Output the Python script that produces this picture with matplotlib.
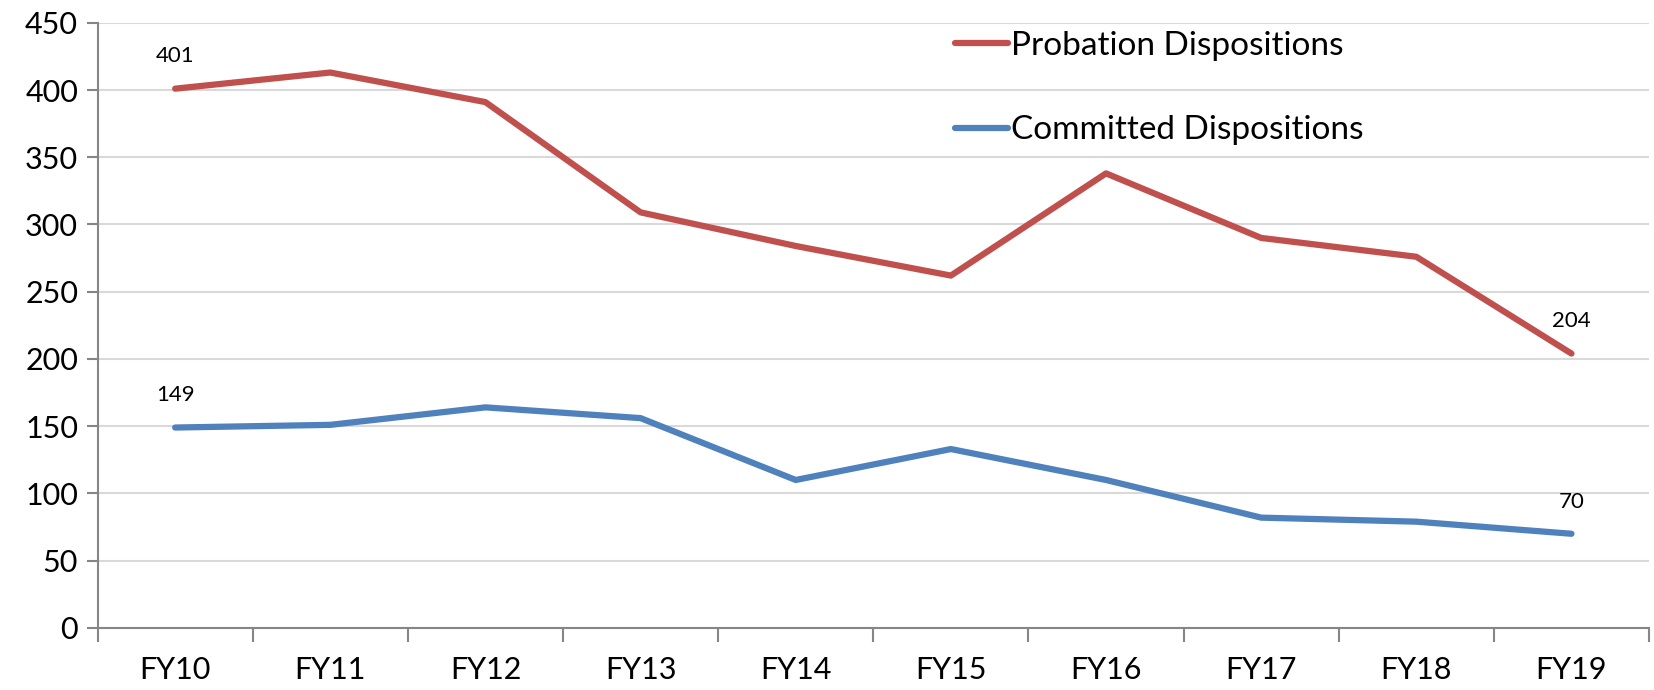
import matplotlib.pyplot as plt
import numpy as np

years = ['FY10', 'FY11', 'FY12', 'FY13', 'FY14', 'FY15', 'FY16', 'FY17', 'FY18', 'FY19']
probation = [401, 413, 391, 309, 284, 262, 338, 290, 276, 204]
committed = [149, 151, 164, 156, 110, 133, 110, 82, 79, 70]

plt.rcParams['font.family'] = ['Lato', 'DejaVu Sans']

fig = plt.figure(figsize=(16.54, 6.9), dpi=100)
ax = fig.add_axes([0.059, 0.09, 0.938, 0.877])

x = np.arange(len(years))
ax.plot(x, probation, color='#C0504D', lw=4.5, solid_capstyle='round', label='Probation Dispositions')
ax.plot(x, committed, color='#4F81BD', lw=4.5, solid_capstyle='round', label='Committed Dispositions')

# labels on first and last points
for s in (probation, committed):
    for i in (0, len(s) - 1):
        ax.annotate(str(s[i]), (x[i], s[i]), xytext=(0, 16), textcoords='offset points',
                    ha='center', va='bottom', fontsize=16)

ax.set_xlim(-0.5, 9.5)
ax.set_ylim(0, 450)
ax.set_yticks(np.arange(0, 451, 50))
ax.yaxis.grid(True, color='#D9D9D9', lw=1.5)
ax.set_axisbelow(True)

# category ticks at boundaries, labels in the middle
ax.set_xticks(np.arange(-0.5, 10, 1))
ax.set_xticklabels([])
ax.set_xticks(x, minor=True)
ax.set_xticklabels(years, minor=True)
ax.tick_params(axis='x', which='major', length=10, width=1.5, color='#868686')
ax.tick_params(axis='x', which='minor', length=0, pad=20, labelsize=22)
ax.tick_params(axis='y', length=8, width=1.5, color='#868686', labelsize=22, pad=6)

for sp in ['top', 'right']:
    ax.spines[sp].set_visible(False)
for sp in ['left', 'bottom']:
    ax.spines[sp].set_color('#868686')
    ax.spines[sp].set_linewidth(1.5)

ax.legend(loc='upper left', bbox_to_anchor=(0.533, 1.036), frameon=False, fontsize=24,
          handlelength=1.6, handletextpad=0.1, labelspacing=1.63)

fig.savefig('out.png', dpi=100)
